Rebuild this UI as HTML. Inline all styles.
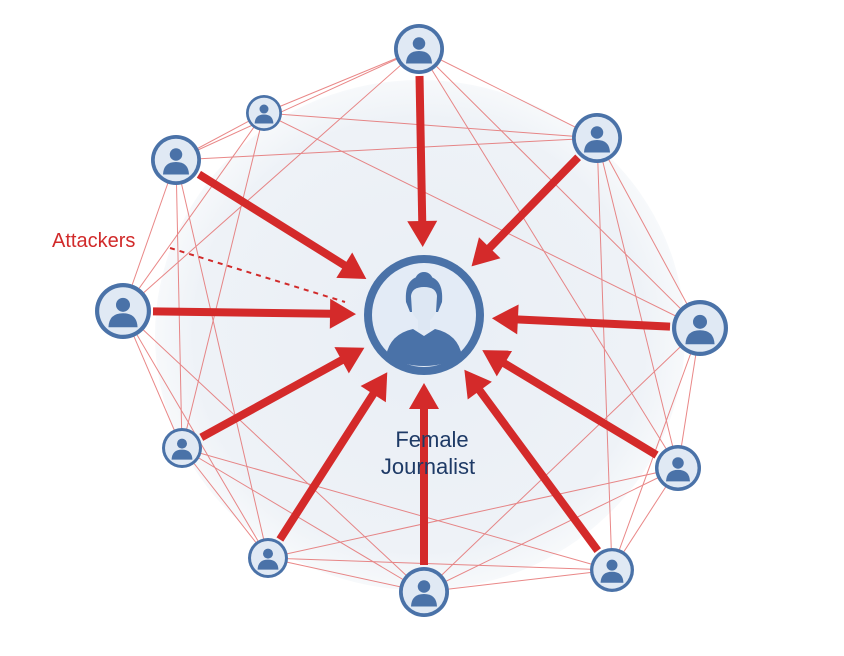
<!DOCTYPE html>
<html><head><meta charset="utf-8"><style>
html,body{margin:0;padding:0;background:#fff;width:844px;height:656px;overflow:hidden}
svg{display:block}
text{font-family:"Liberation Sans",sans-serif}
</style></head><body>
<svg id="s" width="844" height="656" viewBox="0 0 844 656" xmlns="http://www.w3.org/2000/svg">
<defs>
<radialGradient id="bg" cx="0.5" cy="0.5" r="0.5">
<stop offset="0" stop-color="#e9eef5"/><stop offset="0.85" stop-color="#eef2f7"/><stop offset="1" stop-color="#f7f9fb"/>
</radialGradient>
</defs>
<ellipse cx="420" cy="335" rx="265" ry="255" fill="url(#bg)"/>
<g id="thin" stroke="#e46a6a" stroke-width="1" fill="none" opacity="0.8"></g>
<g id="arrows"></g>
<g id="nodes"></g>
<text x="52" y="247" font-size="20" fill="#d12a2a">Attackers</text>
<line x1="170" y1="248" x2="345" y2="302" stroke="#d12a2a" stroke-width="2" stroke-dasharray="5,5"/>
<text x="432" y="447" font-size="22" fill="#1e3a66" text-anchor="middle">Female</text>
<text x="428" y="474" font-size="22" fill="#1e3a66" text-anchor="middle">Journalist</text>
</svg>
<script>
var N=[[419,49,25,1],[597,138,25,1],[700,328,28,1],[678,468,23,1],[612,570,22,1],[424,592,25,1],[268,558,20,1],[182,448,20,1],[123,311,28,1],[176,160,25,1],[264,113,18,0]];
var C=[424,315];
var ns="http://www.w3.org/2000/svg";
function el(t,a,p){var e=document.createElementNS(ns,t);for(var k in a)e.setAttribute(k,a[k]);p.appendChild(e);return e;}
var thin=document.getElementById('thin'),ar=document.getElementById('arrows'),nd=document.getElementById('nodes');
var n=N.length;
for(var i=0;i<n;i++){
 for(var d of [1,2,3]){var j=(i+d)%n;var a=N[i],b=N[j];el('line',{x1:a[0],y1:a[1],x2:b[0],y2:b[1]},thin);}
}
N.forEach(function(p){
 if(!p[3])return;
 var dx=C[0]-p[0],dy=C[1]-p[1],L=Math.hypot(dx,dy),ux=dx/L,uy=dy/L;
 var sx=p[0]+ux*(p[2]+2),sy=p[1]+uy*(p[2]+2);
 var tx=C[0]-ux*68,ty=C[1]-uy*68;
 var bx=tx-ux*26,by=ty-uy*26,px=-uy,py=ux;
 el('line',{x1:sx,y1:sy,x2:bx+ux*2,y2:by+uy*2,stroke:'#d42a2a','stroke-width':8},ar);
 el('polygon',{points:tx+','+ty+' '+(bx+px*15)+','+(by+py*15)+' '+(bx-px*15)+','+(by-py*15),fill:'#d42a2a'},ar);
});
function person(x,y,r,g){
 el('circle',{cx:x,cy:y,r:r,fill:'#4a72a8'},g);
 el('circle',{cx:x,cy:y,r:r*0.85,fill:'#e0e9f4'},g);
 el('circle',{cx:x,cy:y-r*0.22,r:r*0.25,fill:'#4a72a8'},g);
 el('path',{d:'M'+(x-r*0.52)+','+(y+r*0.58)+' Q'+(x-r*0.5)+','+(y+r*0.08)+' '+x+','+(y+r*0.08)+' Q'+(x+r*0.5)+','+(y+r*0.08)+' '+(x+r*0.52)+','+(y+r*0.58)+' Z',fill:'#4a72a8'},g);
}
N.forEach(function(p){person(p[0],p[1],p[2],nd);});
var x=424,y=315;
el('circle',{cx:x,cy:y,r:60,fill:'#4a72a8'},nd);
el('circle',{cx:x,cy:y,r:52,fill:'#e3ebf6'},nd);
el('circle',{cx:x,cy:y-34,r:9,fill:'#4a72a8'},nd);
el('path',{d:'M406,302 Q404,276 424,276 Q444,276 442,302 L438,312 L410,312 Z',fill:'#4a72a8'},nd);
el('path',{d:'M411,296 Q412,287 424,287 Q436,287 437,296 L436,312 Q431,322 424,322 Q417,322 412,312 Z',fill:'#dde7f3'},nd);
el('rect',{x:418,y:320,width:12,height:10,fill:'#dde7f3'},nd);
el('path',{d:'M386,356 Q390,334 413,329 L424,336 L435,329 Q458,334 462,356 Q445,366 424,366 Q403,366 386,356 Z',fill:'#4a72a8'},nd);
</script>
</body></html>
